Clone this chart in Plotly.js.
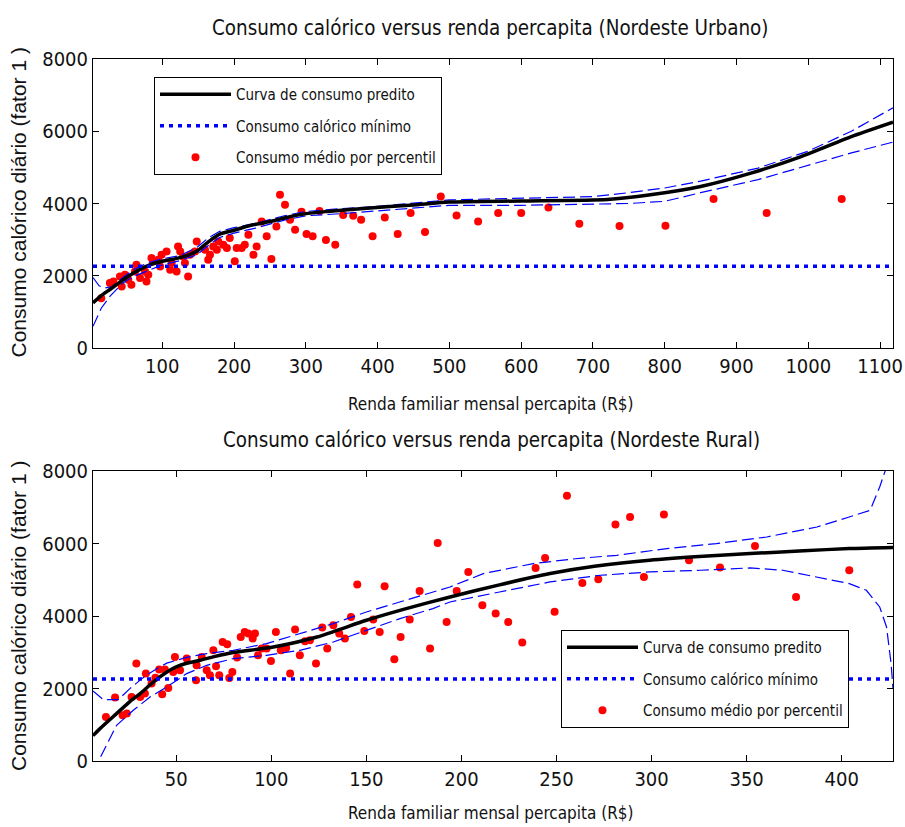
<!DOCTYPE html>
<html><head><meta charset="utf-8">
<script src="https://cdn.plot.ly/plotly-3.0.1.min.js"></script>
<style>html,body{margin:0;padding:0;background:#fff}</style>
</head><body><div id="chart" style="width:905px;height:827px"></div>
<script>
// ---------- Nordeste Urbano ----------
const urbX = [15,27,32,41,43.5,48,52.7,57,62,64,69,76,78,80.5,85,87.5,94.5,97,99,106,111,113,120,122,125,129,131.6,136,138.6,145.6,148,159.5,164,166.5,171,176,178,185,190,194,201,203.7,210.6,215,220,227,231.5,238.5,245.5,252,259,264,271,278,285,294,301,309.5,319,328,341,352,366,377,393,410,428,446,466,488,510,540,568,600,638,681,737,801,868,942,1046.5];
const urbY = [1375,1799,1843,1982,1705,2029,1890,1752,2120,2306,1937,2120,1843,2029,2491,2398,2444,2259,2583,2674,2167,2353,2120,2812,2674,2536,2353,1982,2583,2674,2951,2721,2444,2583,2812,2721,2951,2859,2768,3045,2398,2768,2768,2859,3136,2583,2812,3505,3090,2463,3366,4243,3967,3551,3275,3770,3155,3090,3795,2990,2859,3680,3662,3551,3090,3615,3155,3736,3210,4197,3665,3505,3736,3736,3892,3440,3377,3385,4124,3736,4124];
const urbPredX = [3.5,15,27,45,60,80,100,125,148,165,180,200,222,250,270,300,330,385,450,500,600,720,780,850,920,990,1060,1118];
const urbPredY = [1250,1450,1620,1880,2076,2280,2400,2500,2680,2950,3150,3260,3390,3500,3600,3720,3780,3870,3960,4040,4070,4110,4240,4470,4840,5300,5850,6250];
const urbUpX = [3.5,12,20,30,45,60,80,100,125,148,165,180,200,230,270,300,350,400,500,600,700,750,800,850,930,1000,1060,1118];
const urbUpY = [1950,1720,1660,1700,1950,2170,2360,2470,2560,2780,3060,3230,3330,3450,3660,3780,3860,3920,4100,4150,4190,4300,4430,4620,4980,5450,6000,6650];
const urbLoX = [3.5,15,27,45,60,80,100,125,148,165,180,200,230,270,300,350,400,500,600,700,750,800,850,930,1000,1060,1118];
const urbLoY = [600,1100,1430,1800,1980,2150,2300,2420,2580,2850,3060,3180,3320,3540,3660,3720,3800,3950,3950,3970,4000,4060,4300,4660,5050,5400,5700];
const urbRange = [3.5, 1118];
const urbTicks = [100,200,300,400,500,600,700,800,900,1000,1100];

// ---------- Nordeste Rural ----------
const rurX = [13,17.8,21.8,24,26.5,29,31,33.5,34,37,39,41,42.6,44,45.8,48.4,49.3,52,55.5,60.4,60.7,63.4,66,67.7,69.5,70.9,72.6,74.4,76.8,77.9,79.5,82,83.9,86,87.9,90.2,91.4,93,94.9,97.5,99.8,102.4,105,107.8,109.9,112.5,115,117.7,120.3,123.5,126.8,129.4,132.6,135.7,138.7,141.9,145.2,148.9,153.6,157,159.6,164.7,168,172.8,178,183.5,187.5,192.2,197.5,203.6,211,218,224.6,232,239,244,249,255.5,263.6,272,281,288.7,296,306.5,319.7,336,354.4,376,404];
const rurY = [1214,1749,1261,1308,1766,2687,1766,1860,2411,2135,2300,2522,1840,2522,2014,2456,2870,2502,2825,2226,2640,2870,2502,2364,3054,2613,2364,3283,3220,2290,2456,2853,3421,3559,3515,3377,3515,2916,3101,3101,2759,3559,3054,3118,2411,3625,2916,3303,3330,2687,3680,3101,3744,3515,3377,3973,4867,3587,3901,3559,4820,2806,3421,3901,4690,3101,6015,3835,4690,5215,4296,4066,3835,3267,5325,5601,4120,7320,4911,5013,6522,6732,5077,6798,5537,5335,5932,4525,5262];
const rurPredX = [6.2,10,18.6,26,31,36,41.4,45.5,50,55,62.5,70,80,101,124,150,170,194,220,246.6,270,299,325,351.8,380,404,427];
const rurPredY = [700,900,1308,1660,1860,2090,2318,2470,2594,2690,2778,2880,2991,3145,3421,3882,4190,4525,4860,5170,5370,5537,5640,5722,5800,5860,5890];
const rurUpX = [6.2,11.6,19.5,25.6,32.6,39.7,45,55.5,66,80,97.5,115,132.6,150,167.7,185,194,211.5,237.8,260,281.7,308,334,360.6,387,404,415,420,423,425];
const rurUpY = [1930,1694,1694,1997,2300,2548,2700,2860,2963,3054,3239,3515,3791,4111,4387,4663,4801,5170,5446,5580,5675,5860,5998,6180,6456,6732,6917,7560,8020,8600];
const rurLoX = [6.2,9,18.6,27.4,36.2,45,55.5,66,80,97.5,115,132.6,150,167.7,185,194,220,246.6,273,299,325.5,351.8,369,387,404,413,420,423.6,426,427];
const rurLoY = [-300,0,985,1399,1766,2042,2411,2640,2825,2916,3054,3283,3606,3929,4205,4387,4663,4939,5124,5215,5262,5326,5262,5077,4894,4710,4249,3697,2687,2000];
const rurRange = [6.2, 427];
const rurTicks = [50,100,150,200,250,300,350,400];

const minimoCalorico = 2260;
const yTicks = [0,2000,4000,6000,8000];

const nameCurva = 'Curva de consumo predito';
const nameMin = 'Consumo calórico mínimo';
const nameMedio = 'Consumo médio por percentil';
const titleUrb = 'Consumo calórico versus renda percapita (Nordeste Urbano)';
const titleRur = 'Consumo calórico versus renda percapita (Nordeste Rural)';
const xTitle = 'Renda familiar mensal percapita (R$)';
const yTitle = 'Consumo calórico diário (fator 1 )';

const NARROW = "'DejaVu Sans Condensed', 'Liberation Sans', Arial, sans-serif";
const REG = "'Liberation Sans', Arial, sans-serif";
const txtCol = '#111';
const dashBand = '12px,5px';

function panel(xs, ys, px, py, ux, uy, lx, ly, range, xa, ya, leg, g) {
  return [
    {x: xs, y: ys, type: 'scatter', mode: 'markers', name: nameMedio, legendgroup: g + '3',
     marker: {color: '#ff0000', size: 8}, xaxis: xa, yaxis: ya, legend: leg, legendrank: 3},
    {x: ux, y: uy, type: 'scatter', mode: 'lines', showlegend: false, hoverinfo: 'skip',
     line: {color: '#0000ff', width: 1.2, dash: dashBand}, xaxis: xa, yaxis: ya},
    {x: lx, y: ly, type: 'scatter', mode: 'lines', showlegend: false, hoverinfo: 'skip',
     line: {color: '#0000ff', width: 1.2, dash: dashBand}, xaxis: xa, yaxis: ya},
    {x: px, y: py, type: 'scatter', mode: 'lines', name: nameCurva, legendgroup: g + '1',
     line: {color: '#000', width: 3.5, shape: 'spline', smoothing: 0.6}, xaxis: xa, yaxis: ya, legend: leg, legendrank: 1},
    {x: range, y: [minimoCalorico, minimoCalorico], type: 'scatter', mode: 'lines', name: nameMin, legendgroup: g + '2',
     line: {color: '#0000ff', width: 3.5, dash: '4px,5px'}, xaxis: xa, yaxis: ya, legend: leg, legendrank: 2}
  ];
}

const data = [].concat(
  panel(urbX, urbY, urbPredX, urbPredY, urbUpX, urbUpY, urbLoX, urbLoY, urbRange, 'x', 'y', 'legend', 'u'),
  panel(rurX, rurY, rurPredX, rurPredY, rurUpX, rurUpY, rurLoX, rurLoY, rurRange, 'x2', 'y2', 'legend2', 'r')
);

function xax(range, ticks, anchor) {
  return {range: range, tickvals: ticks, ticks: 'inside', ticklen: 6, tickcolor: '#000',
    showline: true, linecolor: '#000', linewidth: 1, mirror: 'ticks', showgrid: false, zeroline: false,
    ticklabeloverflow: 'allow',
    tickfont: {family: NARROW, size: 20, color: txtCol}, anchor: anchor, domain: [0, 1]};
}
function yax(domain, anchor) {
  return {range: [0, 8000], tickvals: yTicks, ticks: 'inside', ticklen: 6, tickcolor: '#000',
    showline: true, linecolor: '#000', linewidth: 1, mirror: 'ticks', showgrid: false, zeroline: false,
    tickfont: {family: NARROW, size: 20, color: txtCol}, anchor: anchor, domain: domain};
}
const legStyle = {bgcolor: '#fff', bordercolor: '#000', borderwidth: 1,
  font: {family: NARROW, size: 15, color: txtCol}, itemwidth: 71, xanchor: 'left', yanchor: 'top',
  traceorder: 'grouped', tracegroupgap: 9};

const layout = {
  width: 905, height: 827,
  margin: {l: 93, r: 12, t: 0, b: 0},
  paper_bgcolor: '#fff', plot_bgcolor: '#fff',
  showlegend: true,
  xaxis: xax(urbRange, urbTicks, 'y'),
  yaxis: yax([1 - 348/827, 1 - 59/827], 'x'),
  xaxis2: xax(rurRange, rurTicks, 'y2'),
  yaxis2: yax([1 - 761/827, 1 - 471/827], 'x2'),
  legend: Object.assign({x: (154-93)/800, y: 1 - 77/827}, legStyle),
  legend2: Object.assign({x: (561-93)/800, y: 1 - 630/827}, legStyle),
  annotations: [
    {text: titleUrb, xref: 'paper', yref: 'paper', x: 0.496, y: 1 - 28/827, xanchor: 'center', yanchor: 'middle',
     showarrow: false, font: {family: NARROW, size: 20.4, color: txtCol}},
    {text: titleRur, xref: 'paper', yref: 'paper', x: 0.498, y: 1 - 440/827, xanchor: 'center', yanchor: 'middle',
     showarrow: false, font: {family: NARROW, size: 20.4, color: txtCol}},
    {text: xTitle, xref: 'paper', yref: 'paper', x: 0.498, y: 1 - 404/827, xanchor: 'center', yanchor: 'middle',
     showarrow: false, font: {family: NARROW, size: 17, color: txtCol}},
    {text: xTitle, xref: 'paper', yref: 'paper', x: 0.498, y: 1 - 813/827, xanchor: 'center', yanchor: 'middle',
     showarrow: false, font: {family: NARROW, size: 17, color: txtCol}},
    {text: yTitle, xref: 'paper', yref: 'paper', x: (18.5-93)/800, y: 1 - 203/827, xanchor: 'center', yanchor: 'middle',
     textangle: -90, showarrow: false, font: {family: REG, size: 21, color: txtCol}},
    {text: yTitle, xref: 'paper', yref: 'paper', x: (18.5-93)/800, y: 1 - 616.5/827, xanchor: 'center', yanchor: 'middle',
     textangle: -90, showarrow: false, font: {family: REG, size: 21, color: txtCol}}
  ]
};

Plotly.newPlot('chart', data, layout, {displayModeBar: false, staticPlot: true});
</script></body></html>
